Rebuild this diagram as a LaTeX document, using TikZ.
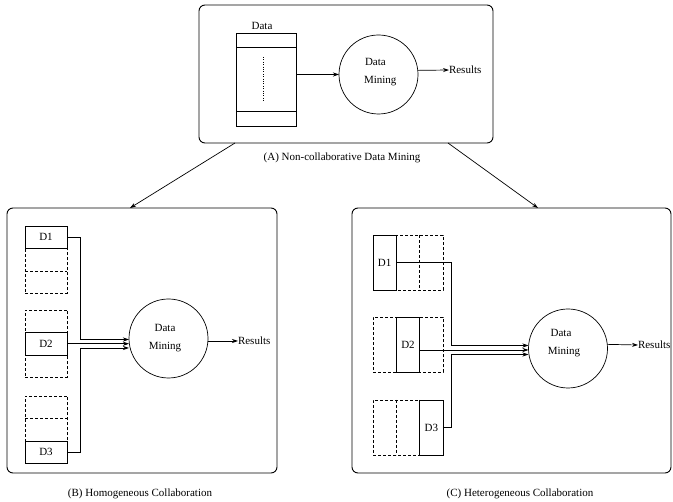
\documentclass[tikz,border=0pt]{standalone}
\usepackage{fontspec}
\setmainfont{Liberation Serif}
\usetikzlibrary{arrows.meta,calc}
\begin{document}
\begin{tikzpicture}[x=1pt,y=-1pt,
  every node/.style={font=\fontsize{11}{13}\selectfont, inner sep=0pt, outer sep=0pt},
  frame/.style={draw, rounded corners=6pt, line width=0.9pt},
  solidbox/.style={draw, line width=0.7pt, fill=white},
  dashbox/.style={draw, dash pattern=on 3pt off 2pt, line width=0.7pt},
  dashline/.style={dash pattern=on 3pt off 2pt, line width=0.7pt},
  dm/.style={draw, circle, minimum size=79pt, line width=0.7pt},
  conn/.style={line width=0.7pt},
  arr/.style={conn, -{Stealth[length=6pt,width=4pt]}},
  lbl/.style={anchor=center},
]
\useasboundingbox (0,0) rectangle (673,502);

% ---------- (A) ----------
\node[frame, minimum width=294pt, minimum height=138pt] (boxA) at (346,74) {};
\node[solidbox, minimum width=60pt, minimum height=93pt] (dataA) at (266,79.5) {};
\draw[conn] ($(dataA.north west)+(0,14)$) -- ($(dataA.north east)+(0,14)$);
\draw[conn] ($(dataA.south west)+(0,-15)$) -- ($(dataA.south east)+(0,-15)$);
\draw[line width=0.6pt, dash pattern=on 0.8pt off 1.6pt] ($(dataA.north)+(-3,24)$) -- ($(dataA.south)+(-3,-24)$);
\node[lbl] (dataAlbl) at (262,26) {Data};
\node[dm] (cA) at (378.5,74.5) {};
\node[anchor=west] (cAt1) at (365,62) {Data};
\node[anchor=west] (cAt2) at (364,81) {Mining};
\draw[arr] (dataA.east |- cA.west) -- (cA.west);
\node[anchor=west] (resA) at (449,70) {Results};
\draw[arr] (cA.6.5) -- (resA.west);
\node[lbl] (capA) at (342,158) {(A) Non-collaborative Data Mining};

% ---------- (B) ----------
\node[frame, minimum width=270pt, minimum height=265pt] (boxB) at (142,340.5) {};
\foreach \n/\y in {gb1/259.75, gb2/343.75, gb3/429.75}{
  \node[dashbox, minimum width=42pt, minimum height=67.5pt] (\n) at (46,\y) {};
  \draw[dashline] ($(\n.north west)+(0,22.5)$) -- ($(\n.north east)+(0,22.5)$);
  \draw[dashline] ($(\n.north west)+(0,45)$) -- ($(\n.north east)+(0,45)$);
}
\node[solidbox, minimum width=42pt, minimum height=22.5pt] (D1b) at (46,237.25) {D1};
\node[solidbox, minimum width=42pt, minimum height=22.5pt] (D2b) at (46,343.75) {D2};
\node[solidbox, minimum width=42pt, minimum height=22.5pt] (D3b) at (46,452.25) {D3};
\node[dm] (cB) at (168.5,338.5) {};
\node[lbl] (cBt1) at (165,328) {Data};
\node[lbl] (cBt2) at (165,347) {Mining};
\draw[arr] (D1b.east) -- ++(13,0) |- ($(D2b.east -| cB.west)+(0,-4.25)$);
\draw[arr] (D2b.east) -- (D2b.east -| cB.west);
\draw[arr] (D3b.east) -- ++(13,0) |- ($(D2b.east -| cB.west)+(0,4.25)$);
\node[anchor=west] (resB) at (238,341) {Results};
\draw[arr] (cB.east |- resB.west) -- (resB.west);
\node[lbl] (capB) at (140,494) {(B) Homogeneous Collaboration};

% ---------- (C) ----------
\node[frame, minimum width=319pt, minimum height=265pt] (boxC) at (511.5,340.5) {};
\foreach \n/\y in {gc1/262.5, gc2/345, gc3/427.5}{
  \node[dashbox, minimum width=70pt, minimum height=55pt] (\n) at (408,\y) {};
  \draw[dashline] ($(\n.north west)+(23.3,0)$) -- ($(\n.south west)+(23.3,0)$);
  \draw[dashline] ($(\n.north west)+(46.7,0)$) -- ($(\n.south west)+(46.7,0)$);
}
\node[solidbox, minimum width=23.3pt, minimum height=55pt] (D1c) at (384.7,262.5) {D1};
\node[solidbox, minimum width=23.3pt, minimum height=55pt] (D2c) at (408,345) {D2};
\node[solidbox, minimum width=23.3pt, minimum height=55pt] (D3c) at (431.3,427.5) {D3};
\node[dm] (cC) at (568,348.5) {};
\node[lbl] (cCt1) at (561,333) {Data};
\node[lbl] (cCt2) at (564,352) {Mining};
\coordinate (jC) at ($(D1c.east)+(54.7,0)$);
\draw[arr] (D1c.east) -- (jC) |- ($(D2c.east -| cC.west)+(0,0.5)$);
\draw[arr] ($(D2c.east)+(0,5)$) -- ($(D2c.east -| cC.west)+(0,5)$);
\draw[arr] (D3c.east) -- (D3c.east -| jC) |- ($(D2c.east -| cC.west)+(0,9.5)$);
\node[anchor=west] (resC) at (638,345) {Results};
\draw[arr] (cC.6) -- (resC.west);
\node[lbl] (capC) at (520,494) {(C) Heterogeneous Collaboration};

% ---------- connectors between panels ----------
\draw[arr] ($(boxA.south west)+(36,0)$) -- ($(boxB.north west)+(123,0)$);
\draw[arr] ($(boxA.south east)+(-45,0)$) -- ($(boxC.north west)+(186,0)$);
\end{tikzpicture}
\end{document}
